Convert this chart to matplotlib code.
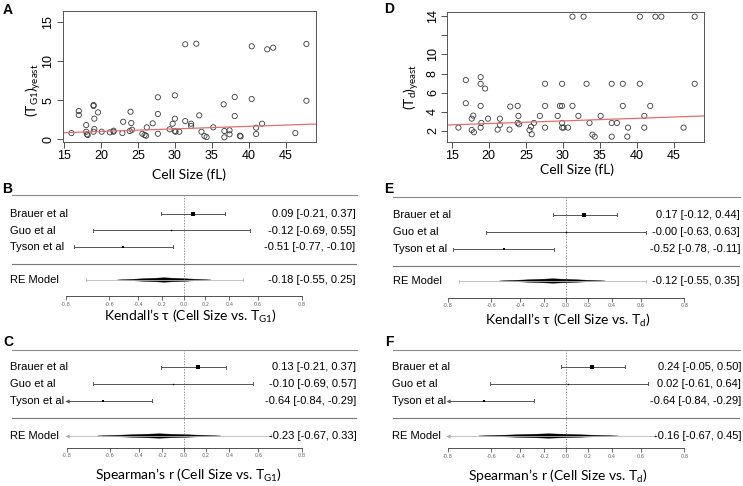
import numpy as np
import matplotlib
matplotlib.use('Agg')
import matplotlib.pyplot as plt
from matplotlib.patches import Polygon

W, H = 743, 486  #figure size in pixels

plt.rcParams['mathtext.fontset'] = 'custom'
plt.rcParams['mathtext.rm'] = 'Lato'
plt.rcParams['mathtext.it'] = 'Lato:italic'
plt.rcParams['mathtext.bf'] = 'Lato:bold'

#Panel A: cell size vs (T_G1)yeast
size_g1 = [16.0, 17.0, 17.0, 18.0, 18.0, 18.1, 18.2, 19.0, 19.0, 19.1, 19.1, 19.0, 19.6, 20.1,
           21.2, 21.7, 21.7, 22.9, 23.0, 24.0, 24.1, 23.9, 24.2, 25.6, 25.9, 26.1, 26.2, 27.0,
           27.7, 27.7, 27.7, 29.3, 29.7, 30.0, 30.0, 30.0, 30.1, 30.6, 31.4, 31.4, 32.9, 32.2,
           32.2, 33.3, 33.6, 34.0, 34.3, 35.2, 36.6, 36.7, 36.7, 37.4, 37.4, 38.1, 38.1, 38.8,
           38.9, 40.4, 40.4, 41.0, 41.0, 41.8, 42.5, 43.3, 46.3, 47.8, 47.8]
t_g1 = [0.80, 3.61, 3.10, 1.82, 0.97, 0.64, 0.55, 4.37, 4.25, 2.63, 1.31, 0.97, 3.44, 0.97,
        0.89, 1.10, 0.97, 0.80, 2.24, 3.52, 2.08, 1.06, 1.22, 0.71, 0.55, 0.46, 1.53, 2.04,
        5.36, 3.23, 0.71, 1.28, 1.99, 5.61, 2.63, 1.06, 0.97, 0.97, 12.12, 2.33, 12.19, 1.99,
        1.70, 3.06, 0.97, 0.42, 0.29, 1.53, 4.46, 1.06, 0.26, 1.15, 0.64, 5.40, 2.97, 0.46,
        0.38, 11.86, 5.14, 1.48, 0.68, 1.99, 11.48, 11.68, 0.80, 12.16, 4.92]
fit_g1 = (0.36, 0.0324)  #intercept, slope of red line

#Panel D: cell size vs (T_d)yeast
size_d = [15.9, 16.9, 16.9, 17.7, 17.9, 17.7, 18.0, 18.9, 18.9, 18.9, 19.0, 18.9, 19.5, 19.9,
          21.2, 21.5, 21.5, 22.8, 22.9, 23.9, 24.0, 23.9, 24.1, 25.5, 25.7, 25.8, 26.1, 26.9,
          27.6, 27.6, 27.6, 29.3, 29.6, 29.9, 29.9, 29.9, 29.9, 30.1, 30.7, 31.3, 31.3, 32.1,
          32.8, 33.2, 33.6, 34.0, 34.3, 35.1, 36.6, 36.6, 36.6, 37.3, 38.1, 38.1, 38.7, 38.8,
          40.4, 40.4, 41.0, 41.0, 41.8, 42.5, 43.3, 46.3, 47.8, 47.8]
t_d = [2.32, 7.31, 4.88, 3.26, 3.58, 2.07, 1.83, 7.62, 6.92, 4.60, 2.81, 2.32, 6.42, 3.26,
       2.11, 3.26, 2.60, 2.11, 4.53, 4.60, 3.55, 2.81, 2.67, 2.07, 2.42, 1.62, 2.81, 3.55,
       6.92, 4.60, 2.32, 3.55, 4.60, 4.60, 6.92, 2.81, 2.32, 2.32, 2.32, 13.97, 4.60, 3.55,
       13.97, 6.92, 2.81, 1.58, 1.37, 3.55, 6.92, 2.81, 1.37, 2.81, 6.92, 4.60, 1.37, 2.32,
       13.97, 6.92, 3.55, 2.32, 4.60, 13.97, 13.97, 2.32, 13.97, 6.92]
fit_d = (2.2, 0.0274)

#Forest plots: study estimates with CI, RE model and prediction interval
studies = ['Brauer et al', 'Guo et al', 'Tyson et al']

kendall_g1 = [0.09, -0.12, -0.51]
kendall_g1_lo = [-0.21, -0.69, -0.77]
kendall_g1_hi = [0.37, 0.55, -0.10]
kendall_g1_re = [-0.18, -0.55, 0.25]
kendall_g1_pi = [-0.72, 0.50]

spearman_g1 = [0.13, -0.10, -0.64]
spearman_g1_lo = [-0.21, -0.69, -0.84]
spearman_g1_hi = [0.37, 0.57, -0.29]
spearman_g1_re = [-0.23, -0.67, 0.33]
spearman_g1_pi = [-0.85, 0.67]

kendall_d = [0.17, -0.0, -0.52]
kendall_d_lo = [-0.12, -0.63, -0.78]
kendall_d_hi = [0.44, 0.63, -0.11]
kendall_d_re = [-0.12, -0.55, 0.35]
kendall_d_pi = [-0.76, 0.63]

spearman_d = [0.24, 0.02, -0.64]
spearman_d_lo = [-0.05, -0.61, -0.84]
spearman_d_hi = [0.50, 0.64, -0.29]
spearman_d_re = [-0.16, -0.67, 0.45]
spearman_d_pi = [-0.82, 0.68]

study_weights = [1.0, 0.3, 0.65]  #relative square size per study

axis_r = [-0.8, -0.6, -0.4, -0.2, 0.0, 0.2, 0.4, 0.6, 0.8]


def px_rect(l, t, r, b):
    #convert pixel box to figure fraction [left, bottom, width, height]
    return [l / W, 1 - b / H, (r - l) / W, (b - t) / H]


def scatter_panel(fig, box, x, y, fit, xlim, ylim, yticks, ylabels):
    ax = fig.add_axes(px_rect(*box))
    ax.scatter(x, y, s=14, facecolors='none', edgecolors='#3a3a3a', linewidths=0.6)
    xs = np.array(xlim)
    ax.plot(xs, fit[0] + fit[1] * xs, color='#e07070', lw=0.9)
    ax.set_xlim(xlim)
    ax.set_ylim(ylim)
    ax.set_xticks([15, 20, 25, 30, 35, 40, 45])
    ax.set_yticks(yticks)
    ax.set_yticklabels(ylabels)
    plt.setp(ax.get_yticklabels(), rotation=90, va='center')
    ax.tick_params(length=4, width=0.6, labelsize=9, pad=2, color='#333')
    for lab in ax.get_xticklabels() + ax.get_yticklabels():
        lab.set_family('Liberation Sans')
    for s in ax.spines.values():
        s.set_linewidth(0.7)
        s.set_color('#555')
    return ax


def end_mark(ax, z, y, color, lw):
    #whisker end, or arrow if the interval leaves the axis range
    zt = np.arctanh(0.8)
    if z < -zt:
        ax.plot(-zt, y, marker='<', ms=3, color=color, mew=0)
    elif z > zt:
        ax.plot(zt, y, marker='>', ms=3, color=color, mew=0)
    else:
        ax.plot([z, z], [y - 1.5, y + 1.5], color=color, lw=lw)


def forest_panel(fig, box, tick_px, rows, est, lo, hi, re, pi, label_px, text_px, xlabel, xlabel_pos):
    left, right, top, bottom = box
    zt = np.arctanh(0.8)
    scale = (tick_px[1] - tick_px[0]) / (2 * zt)

    def z_of(px):
        return (px - tick_px[0]) / scale - zt

    ax = fig.add_axes(px_rect(left, top, right, bottom))
    ax.patch.set_visible(False)
    ax.set_xlim(z_of(left), z_of(right))
    ax.set_ylim(bottom, top)
    ax.set_yticks([])
    ax.spines['left'].set_visible(False)
    ax.spines['right'].set_visible(False)
    ax.spines['top'].set_color('#8a8a8a')
    ax.spines['top'].set_linewidth(0.8)
    ax.spines['bottom'].set_bounds(-zt, zt)
    ax.spines['bottom'].set_linewidth(0.6)
    ax.spines['bottom'].set_color('#333')
    ax.set_xticks(np.arctanh(axis_r))
    ax.set_xticklabels([f'{v:.1f}' for v in axis_r])
    ax.tick_params(axis='x', length=3, width=0.5, labelsize=3.6, pad=1, labelcolor='#666', color='#333')

    ax.axhline(rows[3], color='#777', lw=0.8)
    ax.axvline(0, color='#666', lw=0.5, ls=(0, (2, 2)))

    for i, name in enumerate(studies):
        y = rows[i]
        zl, zh = np.arctanh(lo[i]), np.arctanh(hi[i])
        ax.plot([max(zl, -zt), min(zh, zt)], [y, y], color='#555', lw=0.7)
        end_mark(ax, zl, y, '#555', 0.7)
        end_mark(ax, zh, y, '#555', 0.7)
        ax.plot(np.arctanh(est[i]), y, marker='s', ms=3.3 * study_weights[i], color='black', mew=0)
        ax.text(z_of(label_px), y, name, ha='left', va='center', fontsize=8, family='Liberation Sans')
        ax.text(z_of(text_px), y, f'{est[i]:.2f} [{lo[i]:.2f}, {hi[i]:.2f}]',
                ha='right', va='center', fontsize=8, family='Liberation Sans')

    #RE model: prediction interval and diamond
    y = rows[4]
    pl, ph = np.arctanh(pi[0]), np.arctanh(pi[1])
    ax.plot([max(pl, -zt), min(ph, zt)], [y, y], color='#bbbbbb', lw=0.6)
    end_mark(ax, pl, y, '#aaaaaa', 0.5)
    end_mark(ax, ph, y, '#aaaaaa', 0.5)
    zl, ze, zh = np.arctanh(re[1]), np.arctanh(re[0]), np.arctanh(re[2])
    ax.add_patch(Polygon([(zl, y), (ze, y - 2.2), (zh, y), (ze, y + 2.2)], closed=True,
                         facecolor='black', edgecolor='black', lw=0.3))
    ax.text(z_of(label_px), y, 'RE Model', ha='left', va='center', fontsize=8, family='Liberation Sans')
    ax.text(z_of(text_px), y, f'{re[0]:.2f} [{re[1]:.2f}, {re[2]:.2f}]',
            ha='right', va='center', fontsize=8, family='Liberation Sans')

    fig.text(xlabel_pos[0] / W, 1 - xlabel_pos[1] / H, xlabel, ha='center', va='center',
             fontsize=10, family=['Lato', 'DejaVu Sans'])
    return ax


fig = plt.figure(figsize=(W / 100, H / 100), dpi=100)

#A
scatter_panel(fig, (62.7, 11, 315.7, 142), size_g1, t_g1, fit_g1, (14.82, 49.06), (-0.34, 16.36),
              [0, 5, 10, 15], ['0', '5', '10', '15'])
fig.text(189 / W, 1 - 175 / H, 'Cell Size (fL)', ha='center', va='center', fontsize=10, family='Lato')
fig.text(33 / W, 1 - 90 / H, r'$\mathrm{(T_{G1})_{yeast}}$', rotation=90, ha='center', va='center', fontsize=10)

#D
scatter_panel(fig, (447.3, 12, 704.3, 141.7), size_d, t_d, fit_d, (14.4, 49.1), (0.84, 14.46),
              [2, 4, 6, 8, 10, 12, 14], ['2', '4', '6', '8', '10', '', '14'])
fig.text(577 / W, 1 - 170 / H, 'Cell Size (fL)', ha='center', va='center', fontsize=10, family='Lato')
fig.text(411 / W, 1 - 87 / H, r'$\mathrm{(T_{d})_{yeast}}$', rotation=90, ha='center', va='center', fontsize=10)

#B, C, E, F
forest_panel(fig, (12, 357, 195, 296), (65.7, 301.7), (214, 230.5, 247, 264, 280),
             kendall_g1, kendall_g1_lo, kendall_g1_hi, kendall_g1_re, kendall_g1_pi,
             9.5, 355.5, r'Kendall’s τ (Cell Size vs. $\mathrm{T_{G1}}$)', (190, 316))
forest_panel(fig, (12, 357, 349.5, 447.5), (66.5, 301.7), (367.5, 384, 401, 418.5, 436),
             spearman_g1, spearman_g1_lo, spearman_g1_hi, spearman_g1_re, spearman_g1_pi,
             9.5, 356.5, r'Spearman’s r (Cell Size vs. $\mathrm{T_{G1}}$)', (188, 475.5))
forest_panel(fig, (393, 740, 196.5, 297.5), (447.7, 684.3), (214.5, 232, 249, 266, 281),
             kendall_d, kendall_d_lo, kendall_d_hi, kendall_d_re, kendall_d_pi,
             393, 740, r'Kendall’s τ (Cell Size vs. $\mathrm{T_{d}}$)', (568, 320.5))
forest_panel(fig, (393, 740, 350, 448), (447.7, 684.3), (367, 384, 401, 418, 436),
             spearman_d, spearman_d_lo, spearman_d_hi, spearman_d_re, spearman_d_pi,
             392, 741, r'Spearman’s r (Cell Size vs. $\mathrm{T_{d}}$)', (558, 476))

#panel letters
for letter, x, y in [('A', 3, 3), ('B', 2, 182), ('C', 3, 335), ('D', 384, 2), ('E', 384, 182), ('F', 385, 335)]:
    fig.text(x / W, 1 - y / H, letter, ha='left', va='top', fontsize=10, fontweight='bold',
             family='Liberation Sans')

fig.savefig('out.png', dpi=100)
